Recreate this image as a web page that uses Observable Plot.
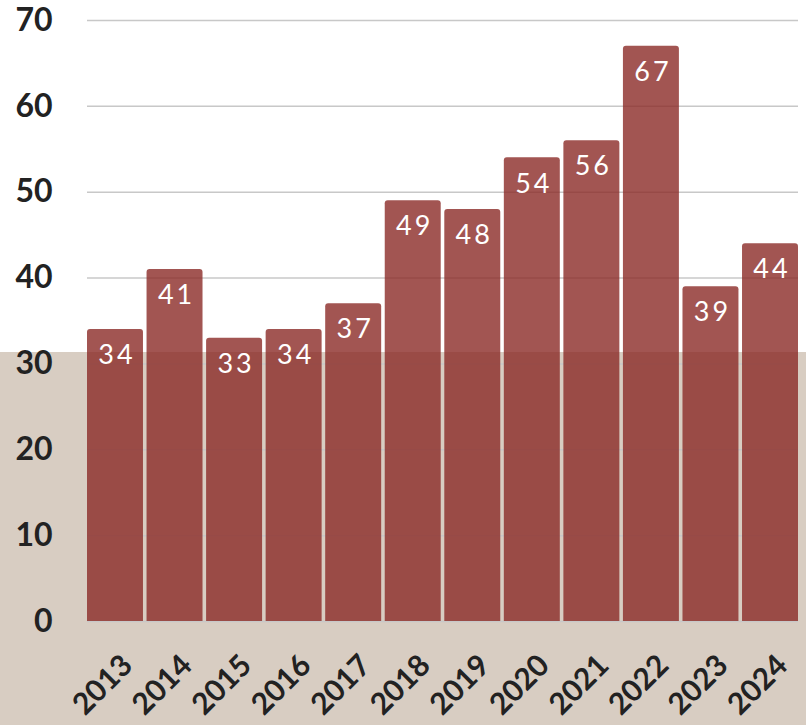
<!DOCTYPE html>
<html>
<head>
<meta charset="utf-8">
<script src="https://cdn.jsdelivr.net/npm/d3@7"></script>
<script src="https://cdn.jsdelivr.net/npm/@observablehq/plot@0.6"></script>
<style>
  html, body { margin: 0; padding: 0; }
  body { width: 806px; height: 725px; overflow: hidden;
    background: linear-gradient(to bottom, #ffffff 0px, #ffffff 352px, #d8cdc2 352px, #d8cdc2 100%); }
  #chart svg { display: block; background: transparent; }
  g[aria-label="text"] text { letter-spacing: 3px; }
</style>
</head>
<body>
<div id="chart"></div>
<script>
const years = ["2013","2014","2015","2016","2017","2018","2019","2020","2021","2022","2023","2024"];
const values = [34, 41, 33, 34, 37, 49, 48, 54, 56, 67, 39, 44];
const yTicks = [0, 10, 20, 30, 40, 50, 60, 70];

const data = years.map((year, i) => ({year, value: values[i]}));

const chart = Plot.plot({
  width: 806,
  height: 725,
  marginLeft: 87,
  marginRight: 8,
  marginTop: 20,
  marginBottom: 104,
  style: {background: "transparent", fontFamily: "Lato, 'Noto Sans', sans-serif", color: "#222"},
  x: {domain: years, paddingInner: 0.06, paddingOuter: 0, round: false, label: null},
  y: {domain: [0, 70], ticks: yTicks, label: null},
  marks: [
    Plot.gridY(yTicks, {stroke: "#c8c8c8", strokeOpacity: 1, strokeWidth: 1.5}),
    Plot.rectY(data, {x: "year", y1: -1, y2: "value", fill: "#8b2b27", fillOpacity: 0.8, rx: 3, inset: 0, clip: true}),
    Plot.text(data, {x: "year", y: "value", text: d => String(d.value), fill: "white", fontSize: 27, dy: 26, dx: 1.5, fontFamily: "Lato, sans-serif"}),
    Plot.axisY(yTicks, {tickSize: 0, tickPadding: 35, fontSize: 32, fontWeight: "bold", fill: "#222", label: null}),
    Plot.axisX({tickSize: 0, tickRotate: -45, fontSize: 30, fontWeight: "bold", fill: "#222", tickPadding: 39, dx: 12, label: null})
  ]
});
document.getElementById("chart").appendChild(chart);
</script>
</body>
</html>
